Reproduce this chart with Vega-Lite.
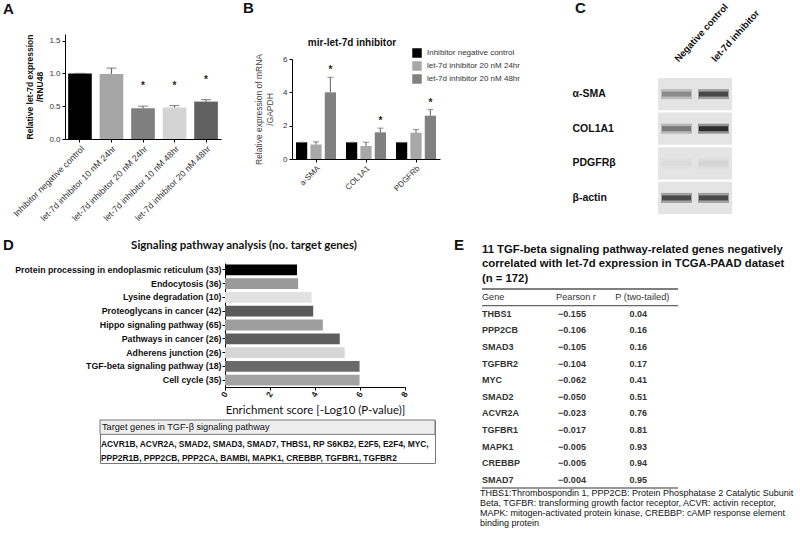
{
  "$schema": "https://vega.github.io/schema/vega-lite/v6.json",
  "padding": 0,
  "background": "white",
  "bounds": "flush",
  "spacing": 0,
  "config": {
    "font": "Liberation Sans",
    "view": {"stroke": null},
    "axis": {"domainColor": "#000", "tickColor": "#000", "labelColor": "#222", "titleColor": "#111", "grid": false},
    "title": {"color": "#111"},
    "point": {"size": 0}
  },
  "datasets": {
    "etable": [
      {"gene": "THBS1", "r": -0.155, "p": 0.04},
      {"gene": "PPP2CB", "r": -0.106, "p": 0.16},
      {"gene": "SMAD3", "r": -0.105, "p": 0.16},
      {"gene": "TGFBR2", "r": -0.104, "p": 0.17},
      {"gene": "MYC", "r": -0.062, "p": 0.41},
      {"gene": "SMAD2", "r": -0.050, "p": 0.51},
      {"gene": "ACVR2A", "r": -0.023, "p": 0.76},
      {"gene": "TGFBR1", "r": -0.017, "p": 0.81},
      {"gene": "MAPK1", "r": -0.005, "p": 0.93},
      {"gene": "CREBBP", "r": -0.005, "p": 0.94},
      {"gene": "SMAD7", "r": -0.004, "p": 0.95}
    ]
  },
  "vconcat": [
    {
      "bounds": "flush",
      "spacing": 0,
      "hconcat": [
        {"width": 65, "height": 34, "data": {"values": [{}]}, "mark": {"type": "point", "opacity": 0},
         "title": {"text": "A", "anchor": "start", "offset": -16.5, "dx": 3, "fontSize": 15, "fontWeight": "bold"}},
        {
          "bounds": "flush", "spacing": 0,
          "vconcat": [
            {"width": 156, "height": 34, "data": {"values": [{}]}, "mark": {"type": "point", "opacity": 0}},
            {
              "width": 156, "height": 105,
              "data": {"values": [
                {"group": "Inhibitor negative control", "mean": 1.0, "upper": 1.0, "sig": ""},
                {"group": "let-7d inhibitor 10 nM 24hr", "mean": 0.99, "upper": 1.08, "sig": ""},
                {"group": "let-7d inhibitor 20 nM 24hr", "mean": 0.47, "upper": 0.50, "sig": "*"},
                {"group": "let-7d inhibitor 10 nM 48hr", "mean": 0.48, "upper": 0.51, "sig": "*"},
                {"group": "let-7d inhibitor 20 nM 48hr", "mean": 0.57, "upper": 0.60, "sig": "*"}
              ]},
              "encoding": {
                "x": {"field": "group", "type": "nominal", "sort": null,
                      "scale": {"paddingInner": 0.25, "paddingOuter": 0.1},
                      "axis": {"title": null, "labelAngle": -45, "labelFontSize": 8.8, "tickSize": 3, "labelLimit": 0, "labelColor": "#333"}}
              },
              "layer": [
                {"mark": {"type": "bar"},
                 "encoding": {
                   "y": {"field": "mean", "type": "quantitative", "scale": {"domain": [0, 1.5]},
                         "axis": {"title": ["Relative let-7d expression", "/RNU48"], "values": [0, 0.5, 1, 1.5], "format": ".1f", "labelFontSize": 8, "tickSize": 3, "titleFontSize": 8.5, "titleFontWeight": "bold", "titlePadding": 4, "titleLineHeight": 10, "labelColor": "#333"}},
                   "color": {"field": "group", "type": "nominal", "sort": null, "legend": null,
                             "scale": {"range": ["#000000", "#a6a6a6", "#7f7f7f", "#d4d4d4", "#606060"]}}
                 }},
                {"mark": {"type": "rule", "color": "#666", "strokeWidth": 1.2},
                 "encoding": {"y": {"field": "mean", "type": "quantitative",
                                    "axis": {"title": ["Relative let-7d expression", "/RNU48"], "values": [0, 0.5, 1, 1.5], "format": ".1f", "labelFontSize": 8, "tickSize": 3, "titleFontSize": 8.5, "titleFontWeight": "bold", "titlePadding": 4, "titleLineHeight": 10, "labelColor": "#333"}},
                              "y2": {"field": "upper"}}},
                {"mark": {"type": "tick", "color": "#666", "thickness": 1.2, "size": 10},
                 "encoding": {"y": {"field": "upper", "type": "quantitative",
                                    "axis": {"title": ["Relative let-7d expression", "/RNU48"], "values": [0, 0.5, 1, 1.5], "format": ".1f", "labelFontSize": 8, "tickSize": 3, "titleFontSize": 8.5, "titleFontWeight": "bold", "titlePadding": 4, "titleLineHeight": 10, "labelColor": "#333"}}}},
                {"mark": {"type": "text", "fontSize": 10, "fontWeight": "bold", "baseline": "middle", "fill": "#222", "color": "#222"},
                 "encoding": {"y": {"field": "upper", "type": "quantitative",
                                    "axis": {"title": ["Relative let-7d expression", "/RNU48"], "values": [0, 0.5, 1, 1.5], "format": ".1f", "labelFontSize": 8, "tickSize": 3, "titleFontSize": 8.5, "titleFontWeight": "bold", "titlePadding": 4, "titleLineHeight": 10, "labelColor": "#333"}},
                              "yOffset": {"value": -20},
                              "text": {"field": "sig"}}}
              ]
            }
          ]
        },
        {"width": 227, "height": 1, "data": {"values": [{}]}, "mark": {"type": "point", "opacity": 0}},
        {
          "bounds": "flush", "spacing": 0,
          "vconcat": [
            {"width": 148, "height": 59, "data": {"values": [{}]}, "mark": {"type": "point", "opacity": 0},
             "title": {"text": "B", "anchor": "start", "offset": -15.5, "dx": -49, "fontSize": 15, "fontWeight": "bold"}},
            {
              "width": 148, "height": 100,
              "title": {"text": "mir-let-7d inhibitor", "fontSize": 10, "fontWeight": "bold", "anchor": "middle", "dx": -14, "offset": 5},
              "data": {"values": [
                {"gene": "a-SMA", "cond": "Inhibitor negative control", "mean": 1.0, "upper": 1.0, "sig": ""},
                {"gene": "a-SMA", "cond": "let-7d inhibitor 20 nM 24hr", "mean": 0.87, "upper": 1.03, "sig": ""},
                {"gene": "a-SMA", "cond": "let-7d inhibitor 20 nM 48hr", "mean": 4.0, "upper": 4.9, "sig": "*"},
                {"gene": "COL1A1", "cond": "Inhibitor negative control", "mean": 1.0, "upper": 1.0, "sig": ""},
                {"gene": "COL1A1", "cond": "let-7d inhibitor 20 nM 24hr", "mean": 0.78, "upper": 1.0, "sig": ""},
                {"gene": "COL1A1", "cond": "let-7d inhibitor 20 nM 48hr", "mean": 1.6, "upper": 1.85, "sig": "*"},
                {"gene": "PDGFRb", "cond": "Inhibitor negative control", "mean": 1.0, "upper": 1.0, "sig": ""},
                {"gene": "PDGFRb", "cond": "let-7d inhibitor 20 nM 24hr", "mean": 1.58, "upper": 1.77, "sig": ""},
                {"gene": "PDGFRb", "cond": "let-7d inhibitor 20 nM 48hr", "mean": 2.6, "upper": 2.97, "sig": "*"}
              ]},
              "encoding": {
                "x": {"field": "gene", "type": "nominal", "sort": null,
                      "scale": {"paddingInner": 0.2, "paddingOuter": 0.08},
                      "axis": {"title": null, "labelAngle": -45, "labelFontSize": 8, "tickSize": 3, "labelColor": "#333"}},
                "xOffset": {"field": "cond", "type": "nominal", "sort": null, "scale": {"paddingInner": 0.22}}
              },
              "layer": [
                {"mark": {"type": "bar"},
                 "encoding": {
                   "y": {"field": "mean", "type": "quantitative", "scale": {"domain": [0, 6]},
                         "axis": {"title": ["Relative expression of mRNA", "/GAPDH"], "values": [0, 2, 4, 6], "labelFontSize": 8, "tickSize": 3, "titleFontSize": 8.5, "titleFontWeight": "normal", "titleColor": "#444", "titlePadding": 8, "titleLineHeight": 11, "labelColor": "#333"}},
                   "color": {"field": "cond", "type": "nominal", "sort": null,
                             "scale": {"range": ["#000000", "#a8a8a8", "#808080"]},
                             "legend": {"orient": "none", "legendX": 120, "legendY": 48, "title": null, "symbolType": "square", "symbolSize": 90, "symbolStrokeWidth": 0, "labelFontSize": 8, "labelColor": "#333", "rowPadding": 3, "labelOffset": 5, "labelLimit": 0}}
                 }},
                {"mark": {"type": "rule", "color": "#777", "strokeWidth": 1.2},
                 "encoding": {"y": {"field": "mean", "type": "quantitative",
                                    "axis": {"title": ["Relative expression of mRNA", "/GAPDH"], "values": [0, 2, 4, 6], "labelFontSize": 8, "tickSize": 3, "titleFontSize": 8.5, "titleFontWeight": "normal", "titleColor": "#444", "titlePadding": 8, "titleLineHeight": 11, "labelColor": "#333"}},
                              "y2": {"field": "upper"}}},
                {"mark": {"type": "tick", "color": "#777", "thickness": 1.2, "size": 6},
                 "encoding": {"y": {"field": "upper", "type": "quantitative",
                                    "axis": {"title": ["Relative expression of mRNA", "/GAPDH"], "values": [0, 2, 4, 6], "labelFontSize": 8, "tickSize": 3, "titleFontSize": 8.5, "titleFontWeight": "normal", "titleColor": "#444", "titlePadding": 8, "titleLineHeight": 11, "labelColor": "#333"}}}},
                {"mark": {"type": "text", "fontSize": 10, "fontWeight": "bold", "baseline": "middle", "dy": -7, "fill": "#222", "color": "#222"},
                 "encoding": {"y": {"field": "upper", "type": "quantitative",
                                    "axis": {"title": ["Relative expression of mRNA", "/GAPDH"], "values": [0, 2, 4, 6], "labelFontSize": 8, "tickSize": 3, "titleFontSize": 8.5, "titleFontWeight": "normal", "titleColor": "#444", "titlePadding": 8, "titleLineHeight": 11, "labelColor": "#333"}},
                              "text": {"field": "sig"}}}
              ]
            }
          ]
        },
        {"width": 366, "height": 1, "data": {"values": [{}]}, "mark": {"type": "point", "opacity": 0}},
        {
          "bounds": "flush", "spacing": 0,
          "vconcat": [
            {"width": 74, "height": 78, "data": {"values": [{}]}, "mark": {"type": "point", "opacity": 0},
             "title": {"text": "C", "anchor": "start", "offset": -15.5, "dx": -83, "fontSize": 15, "fontWeight": "bold"}},
            {
              "width": 74, "height": 136,
              "data": {"values": [
                {"protein": "α-SMA", "lane": "Negative control", "intensity": 0.45},
                {"protein": "α-SMA", "lane": "let-7d inhibitor", "intensity": 0.85},
                {"protein": "COL1A1", "lane": "Negative control", "intensity": 0.55},
                {"protein": "COL1A1", "lane": "let-7d inhibitor", "intensity": 1.0},
                {"protein": "PDGFRβ", "lane": "Negative control", "intensity": 0.04},
                {"protein": "PDGFRβ", "lane": "let-7d inhibitor", "intensity": 0.07},
                {"protein": "β-actin", "lane": "Negative control", "intensity": 0.85},
                {"protein": "β-actin", "lane": "let-7d inhibitor", "intensity": 0.85}
              ]},
              "encoding": {
                "x": {"field": "lane", "type": "nominal", "sort": null,
                      "scale": {"paddingInner": 0, "paddingOuter": 0},
                      "axis": {"orient": "top", "title": null, "labelAngle": -48, "labelAlign": "left", "labelBaseline": "middle", "labelPadding": 18, "ticks": false, "domain": false, "labelFontSize": 9.5, "labelFontWeight": "bold", "labelColor": "#111", "labelLimit": 0}},
                "y": {"field": "protein", "type": "nominal", "sort": null,
                      "scale": {"paddingInner": 0.07, "paddingOuter": 0},
                      "axis": {"title": null, "labelAlign": "left", "labelPadding": 86, "ticks": false, "domain": false, "labelFontSize": 10.5, "labelFontWeight": "bold", "labelColor": "#111"}}
              },
              "layer": [
                {"mark": {"type": "rect", "color": "#e4e4e4"}},
                {"mark": {"type": "tick", "orient": "horizontal", "thickness": 10, "size": 31, "opacity": 0.35},
                 "encoding": {"color": {"field": "intensity", "type": "quantitative", "legend": null, "scale": {"domain": [0, 1], "range": ["#e4e4e4", "#000000"]}}}},
                {"mark": {"type": "tick", "orient": "horizontal", "thickness": 5, "size": 29},
                 "encoding": {"color": {"field": "intensity", "type": "quantitative", "legend": null}}}
              ]
            }
          ]
        }
      ]
    },
    {"width": 1, "height": 263, "data": {"values": [{}]}, "mark": {"type": "point", "opacity": 0}},
    {
      "bounds": "flush",
      "spacing": 0,
      "hconcat": [
        {"width": 100, "height": 1, "data": {"values": [{}]}, "mark": {"type": "point", "opacity": 0},
         "title": {"text": "D", "anchor": "start", "offset": 10.5, "dx": 3, "fontSize": 15, "fontWeight": "bold"}},
        {
          "bounds": "flush", "spacing": 0,
          "vconcat": [
            {
              "bounds": "flush", "spacing": 0,
              "hconcat": [
                {"width": 125, "height": 1, "data": {"values": [{}]}, "mark": {"type": "point", "opacity": 0}},
                {
                  "width": 180, "height": 124,
                  "title": {"text": "Signaling pathway analysis (no. target genes)", "fontSize": 11.5, "fontWeight": "bold", "anchor": "middle", "dx": -71, "offset": 12, "font": "Lato"},
                  "data": {"values": [
                    {"pathway": "Protein processing in endoplasmic reticulum (33)", "score": 3.2},
                    {"pathway": "Endocytosis (36)", "score": 3.25},
                    {"pathway": "Lysine degradation (10)", "score": 3.85},
                    {"pathway": "Proteoglycans in cancer (42)", "score": 3.92},
                    {"pathway": "Hippo signaling pathway (65)", "score": 4.35},
                    {"pathway": "Pathways in cancer (26)", "score": 5.1},
                    {"pathway": "Adherens junction (26)", "score": 5.32},
                    {"pathway": "TGF-beta signaling pathway (18)", "score": 5.98},
                    {"pathway": "Cell cycle (35)", "score": 5.98}
                  ]},
                  "mark": {"type": "bar"},
                  "encoding": {
                    "y": {"field": "pathway", "type": "nominal", "sort": null,
                          "scale": {"paddingInner": 0.22, "paddingOuter": 0.1},
                          "axis": {"title": null, "labelFontSize": 8.8, "labelFontWeight": "bold", "labelLimit": 0, "tickSize": 3, "labelColor": "#111", "labelPadding": 1}},
                    "x": {"field": "score", "type": "quantitative", "scale": {"domain": [0, 8]},
                          "axis": {"values": [0, 2, 4, 6, 8], "labelAngle": -60, "labelFontSize": 8.5, "labelFontWeight": "bold", "tickSize": 3, "title": "Enrichment score [-Log10 (P-value)]", "titleFontSize": 11.5, "titleFontWeight": "normal", "titleFont": "Lato", "titlePadding": 6}},
                    "color": {"field": "pathway", "type": "nominal", "sort": null, "legend": null,
                              "scale": {"range": ["#000000", "#9a9a9a", "#e2e2e2", "#5a5a5a", "#9e9e9e", "#5e5e5e", "#d6d6d6", "#6a6a6a", "#a2a2a2"]}}
                  }
                }
              ]
            },
            {"width": 1, "height": 157, "data": {"values": [{}]}, "mark": {"type": "point", "opacity": 0}},
            {
              "width": 335, "height": 43,
              "view": {"stroke": "#777", "strokeWidth": 1},
              "data": {"values": [
                {"row": "h", "label": "Target genes in TGF-β signaling pathway"},
                {"row": "b1", "label": "ACVR1B, ACVR2A, SMAD2, SMAD3, SMAD7, THBS1, RP S6KB2, E2F5, E2F4, MYC,"},
                {"row": "b2", "label": "PPP2R1B,  PPP2CB,  PPP2CA, BAMBI, MAPK1, CREBBP,  TGFBR1, TGFBR2"}
              ]},
              "encoding": {
                "y": {"field": "row", "type": "nominal", "sort": null, "axis": null,
                      "scale": {"domain": ["h", "b1", "b2"], "paddingInner": 0, "paddingOuter": 0}}
              },
              "layer": [
                {"transform": [{"filter": "datum.row === 'h'"}],
                 "mark": {"type": "rect", "fill": "#eeeeee", "stroke": "#777", "strokeWidth": 1}},
                {"transform": [{"filter": "datum.row === 'h'"}],
                 "mark": {"type": "text", "align": "left", "baseline": "middle", "dx": 2, "fontSize": 9.2, "color": "#111"},
                 "encoding": {
                   "x": {"datum": 0, "type": "quantitative", "scale": {"domain": [0, 1]}, "axis": null},
                   "text": {"field": "label"}
                 }},
                {"transform": [{"filter": "datum.row !== 'h'"}],
                 "mark": {"type": "text", "align": "left", "baseline": "middle", "dx": 1, "dy": 2, "fontSize": 8.4, "fontWeight": "bold", "color": "#111"},
                 "encoding": {
                   "x": {"datum": 0, "type": "quantitative", "axis": null},
                   "text": {"field": "label"}
                 }}
              ]
            }
          ]
        },
        {"width": 382, "height": 1, "data": {"values": [{}]}, "mark": {"type": "point", "opacity": 0},
         "title": {"text": "E", "anchor": "start", "offset": 10.5, "dx": 354, "fontSize": 15, "fontWeight": "bold"}},
        {
          "bounds": "flush", "spacing": 0,
          "vconcat": [
            {"width": 196, "height": 26, "data": {"values": [{}]}, "mark": {"type": "point", "opacity": 0}},
            {
              "width": 196, "height": 199,
              "title": {"text": ["11 TGF-beta signaling pathway-related genes negatively", "correlated with let-7d expression in TCGA-PAAD  dataset", "(n = 172)"], "anchor": "start", "frame": "group", "fontSize": 11.3, "fontWeight": "bold", "lineHeight": 14.5, "offset": 4},
              "data": {"name": "etable"},
              "encoding": {
                "y": {"field": "gene", "type": "nominal", "axis": null,
                      "scale": {"domain": ["hdr", "THBS1", "PPP2CB", "SMAD3", "TGFBR2", "MYC", "SMAD2", "ACVR2A", "TGFBR1", "MAPK1", "CREBBP", "SMAD7"], "paddingInner": 0, "paddingOuter": 0}},
                "x": {"datum": "Gene", "type": "nominal", "axis": null,
                      "scale": {"domain": ["Gene", "Pearson r", "P (two-tailed)"], "paddingInner": 0, "paddingOuter": 0}}
              },
              "layer": [
                {"data": {"values": [{"gene": "hdr"}]}, "mark": {"type": "rule", "color": "#555", "strokeWidth": 1.5},
                 "encoding": {"x": null, "y": {"field": "gene", "type": "nominal", "bandPosition": 0}}},
                {"data": {"values": [{"gene": "hdr"}]}, "mark": {"type": "rule", "color": "#666", "strokeWidth": 1.2},
                 "encoding": {"x": null, "y": {"field": "gene", "type": "nominal", "bandPosition": 1}}},
                {"data": {"values": [{"gene": "SMAD7"}]}, "mark": {"type": "rule", "color": "#333", "strokeWidth": 1},
                 "encoding": {"x": null, "y": {"field": "gene", "type": "nominal", "bandPosition": 1}}},
                {"data": {"values": [{"gene": "hdr", "label": "Gene"}]},
                 "mark": {"type": "text", "align": "left", "baseline": "middle", "fontSize": 9.2, "color": "#333", "dx": -32.7},
                 "encoding": {"x": {"datum": "Gene", "type": "nominal"}, "text": {"field": "label"}}},
                {"data": {"values": [{"gene": "hdr", "label": "Pearson r"}]},
                 "mark": {"type": "text", "align": "center", "baseline": "middle", "fontSize": 9.2, "color": "#333", "dx": -4},
                 "encoding": {"x": {"datum": "Pearson r", "type": "nominal"}, "text": {"field": "label"}}},
                {"data": {"values": [{"gene": "hdr", "label": "P (two-tailed)"}]},
                 "mark": {"type": "text", "align": "center", "baseline": "middle", "fontSize": 9.2, "color": "#333", "dx": -3},
                 "encoding": {"x": {"datum": "P (two-tailed)", "type": "nominal"}, "text": {"field": "label"}}},
                {"mark": {"type": "text", "align": "left", "baseline": "middle", "fontSize": 9, "fontWeight": "bold", "color": "#333", "dx": -32.7},
                 "encoding": {"x": {"datum": "Gene", "type": "nominal"}, "text": {"field": "gene"}}},
                {"mark": {"type": "text", "align": "center", "baseline": "middle", "fontSize": 9, "fontWeight": "bold", "color": "#333", "dx": -8},
                 "encoding": {"x": {"datum": "Pearson r", "type": "nominal"}, "text": {"field": "r", "format": ".3f"}}},
                {"mark": {"type": "text", "align": "center", "baseline": "middle", "fontSize": 9, "fontWeight": "bold", "color": "#333", "dx": -7},
                 "encoding": {"x": {"datum": "P (two-tailed)", "type": "nominal"}, "text": {"field": "p", "format": ".2f"}}}
              ]
            },
            {
              "width": 318, "height": 40,
              "data": {"values": [
                {"line": 1, "label": "THBS1:Thrombospondin 1, PPP2CB: Protein Phosphatase 2 Catalytic Subunit"},
                {"line": 2, "label": "Beta, TGFBR:  transforming growth factor receptor, ACVR: activin receptor,"},
                {"line": 3, "label": "MAPK: mitogen-activated protein kinase, CREBBP:  cAMP response element"},
                {"line": 4, "label": "binding protein"}
              ]},
              "mark": {"type": "text", "align": "left", "baseline": "middle", "fontSize": 9, "dx": -2, "color": "#111"},
              "encoding": {
                "y": {"field": "line", "type": "ordinal", "axis": null, "scale": {"paddingInner": 0, "paddingOuter": 0}},
                "x": {"datum": 0, "type": "quantitative", "scale": {"domain": [0, 1]}, "axis": null},
                "text": {"field": "label"}
              }
            }
          ]
        }
      ]
    }
  ]
}
